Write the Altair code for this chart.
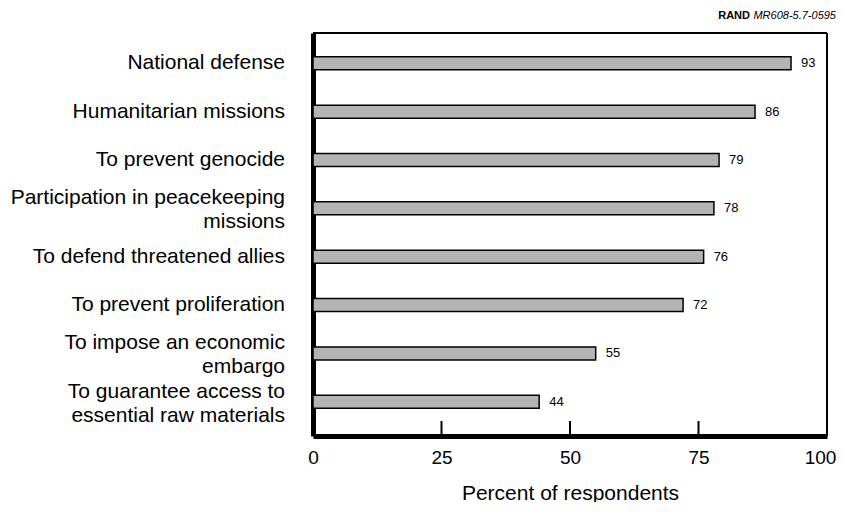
import altair as alt
import pandas as pd

categories = [
    "National defense",
    "Humanitarian missions",
    "To prevent genocide",
    "Participation in peacekeeping\nmissions",
    "To defend threatened allies",
    "To prevent proliferation",
    "To impose an economic\nembargo",
    "To guarantee access to\nessential raw materials",
]
values = [93, 86, 79, 78, 76, 72, 55, 44]
tick_values = [0, 25, 50, 75, 100]
inner_ticks = [25, 50, 75]
x_title = "Percent of respondents"
source_bold = "RAND"
source_italic = "MR608-5.7-0595"

df = pd.DataFrame({"category": categories, "value": values,
                   "idx": list(range(len(categories)))})
ticks_df = pd.DataFrame({"t": inner_ticks})
one = pd.DataFrame({"a": [0]})

W, H = 514, 403
FONT = "Liberation Sans"
LINE_H = 24

xscale = alt.Scale(domain=[0, 100], nice=False, zero=True)
yscale = alt.Scale(domain=[-0.524, 7.605], reverse=True, nice=False, zero=False)

x_axis = alt.Axis(values=tick_values, title=x_title, ticks=False, grid=False,
                  domainWidth=5, domainColor="black", labelFontSize=19,
                  labelPadding=12, titleFontSize=21, titleY=63,
                  titleBaseline="alphabetic",
                  labelOffset={"condition": {"test": "datum.value === 100", "value": -7},
                               "value": 0},
                  titleFontWeight="normal", labelFont=FONT, titleFont=FONT,
                  labelColor="black", titleColor="black", labelFlush=False)
y_axis = alt.Axis(labels=False, ticks=False, grid=False, title=None,
                  domainWidth=5, domainColor="black")

X = lambda f: alt.X(f, scale=xscale, axis=x_axis)
Y = lambda f: alt.Y(f, scale=yscale, axis=y_axis)

base = alt.Chart(df)

bars = base.mark_bar(orient="horizontal", size=13, color="#b4b4b4",
                     stroke="black", strokeWidth=1.5).encode(
    x=X("value:Q"), y=Y("idx:Q"),
)

val_labels = base.mark_text(align="left", dx=10, fontSize=13, baseline="middle",
                            font=FONT, color="black").encode(
    x=X("value:Q"), y=Y("idx:Q"), text="value:Q",
)

label_style = dict(align="right", dx=-28, fontSize=21, baseline="middle",
                   lineBreak="\n", lineHeight=LINE_H, font=FONT, color="black")

cat_single = base.transform_filter(
    "indexof(datum.category, '\\n') < 0"
).mark_text(**label_style).encode(
    x=alt.datum(0), y=Y("idx:Q"), text="category:N",
)
cat_multi = base.transform_filter(
    "indexof(datum.category, '\\n') >= 0"
).mark_text(dy=-10, **label_style).encode(
    x=alt.datum(0), y=Y("idx:Q"), text="category:N",
)

ticks = alt.Chart(ticks_df).mark_rule(strokeWidth=2, color="black").encode(
    x=X("t:Q"),
    y=alt.value(H),
    y2=alt.value(H - 15),
)

top_rule = alt.Chart(one).mark_rule(strokeWidth=2, color="black").encode(
    x=alt.value(0), x2=alt.value(W), y=alt.value(0)
)
right_rule = alt.Chart(one).mark_rule(strokeWidth=2, color="black").encode(
    x=alt.value(W), y=alt.value(0), y2=alt.value(H)
)

src_italic = alt.Chart(one).mark_text(align="right", baseline="alphabetic",
                                      fontStyle="italic", fontSize=11, font=FONT,
                                      color="black").encode(
    x=alt.value(W + 9), y=alt.value(-14), text=alt.value(source_italic)
)
src_bold = alt.Chart(one).mark_text(align="right", baseline="alphabetic",
                                    fontWeight="bold", fontSize=11, font=FONT,
                                    color="black").encode(
    x=alt.value(W + 9 - 86), y=alt.value(-14), text=alt.value(source_bold)
)

chart = alt.layer(
    bars, val_labels, cat_single, cat_multi, ticks, top_rule, right_rule,
    src_italic, src_bold
).properties(
    width=W, height=H,
    autosize=alt.AutoSizeParams(type="none"),
    padding={"left": 305, "top": 25, "right": 10, "bottom": 66},
).configure_view(stroke=None).configure(background="white")

chart.save("out.html", embed_options={"renderer": "svg", "actions": False})
